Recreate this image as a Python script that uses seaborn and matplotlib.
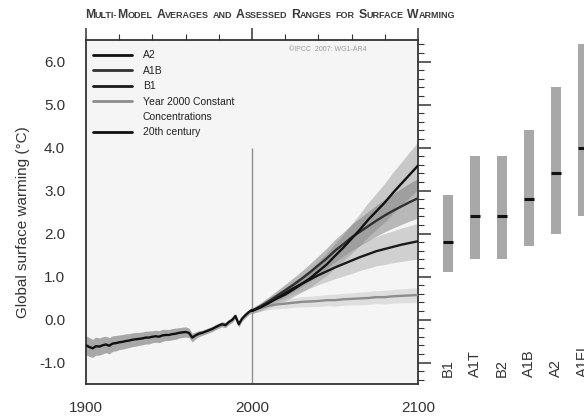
import numpy as np
import pandas as pd
import matplotlib
matplotlib.use("Agg")
import matplotlib.pyplot as plt
from matplotlib.lines import Line2D
from matplotlib.ticker import MultipleLocator, FormatStrFormatter
from matplotlib.transforms import IdentityTransform
import seaborn as sns

sns.set_theme(style="white")
plt.rcParams['font.family'] = ['Liberation Sans', 'DejaVu Sans']

# ---------------- data ----------------
years_20c = list(range(1900, 2001, 2))
temp_20c = [-0.60, -0.64, -0.67, -0.62, -0.63, -0.60, -0.58, -0.61, -0.56, -0.55,
            -0.53, -0.52, -0.50, -0.49, -0.47, -0.46, -0.45, -0.44, -0.42, -0.42,
            -0.40, -0.39, -0.40, -0.37, -0.36, -0.36, -0.34, -0.33, -0.31, -0.30,
            -0.29, -0.31, -0.42, -0.37, -0.33, -0.31, -0.28, -0.25, -0.22, -0.18,
            -0.14, -0.11, -0.13, -0.06, -0.01, 0.08, -0.11, 0.02, 0.10, 0.17, 0.22]
spread_20c = [0.22, 0.22, 0.21, 0.21, 0.20, 0.20, 0.19, 0.19, 0.18, 0.18,
              0.17, 0.17, 0.17, 0.16, 0.16, 0.16, 0.15, 0.15, 0.15, 0.15,
              0.14, 0.14, 0.14, 0.14, 0.13, 0.13, 0.13, 0.13, 0.12, 0.12,
              0.12, 0.11, 0.10, 0.08, 0.07, 0.06, 0.06, 0.06, 0.06, 0.06,
              0.06, 0.06, 0.06, 0.06, 0.06, 0.06, 0.07, 0.06, 0.06, 0.06, 0.06]

years_future = list(range(2000, 2101, 5))
a2 = [0.20, 0.28, 0.38, 0.49, 0.58, 0.70, 0.83, 0.96, 1.12, 1.28, 1.48,
      1.67, 1.88, 2.09, 2.32, 2.52, 2.72, 2.95, 3.16, 3.37, 3.58]
a2_spread = [0.06, 0.09, 0.11, 0.13, 0.15, 0.17, 0.19, 0.21, 0.23, 0.26, 0.28,
             0.31, 0.34, 0.37, 0.40, 0.42, 0.45, 0.48, 0.50, 0.53, 0.55]
a1b = [0.20, 0.30, 0.42, 0.55, 0.68, 0.81, 0.95, 1.10, 1.26, 1.42, 1.60,
       1.75, 1.91, 2.04, 2.17, 2.30, 2.42, 2.53, 2.63, 2.73, 2.82]
a1b_spread = [0.06, 0.08, 0.10, 0.12, 0.14, 0.16, 0.18, 0.20, 0.22, 0.24, 0.26,
              0.28, 0.30, 0.32, 0.34, 0.36, 0.38, 0.40, 0.42, 0.44, 0.46]
b1 = [0.20, 0.30, 0.41, 0.51, 0.62, 0.73, 0.83, 0.93, 1.03, 1.12, 1.21,
      1.29, 1.37, 1.45, 1.52, 1.59, 1.64, 1.69, 1.74, 1.78, 1.82]
b1_spread = [0.06, 0.08, 0.10, 0.12, 0.14, 0.16, 0.18, 0.20, 0.22, 0.24, 0.26,
             0.28, 0.30, 0.31, 0.33, 0.34, 0.36, 0.37, 0.39, 0.40, 0.42]
const = [0.20, 0.27, 0.32, 0.35, 0.37, 0.39, 0.41, 0.42, 0.43, 0.45, 0.45,
         0.47, 0.48, 0.49, 0.50, 0.52, 0.52, 0.54, 0.55, 0.56, 0.57]
const_spread = [0.05, 0.08, 0.09, 0.10, 0.11, 0.11, 0.12, 0.12, 0.13, 0.13, 0.14,
                0.14, 0.14, 0.15, 0.15, 0.15, 0.16, 0.16, 0.16, 0.17, 0.17]

scen_labels = ["B1", "A1T", "B2", "A1B", "A2", "A1FI"]
scen_best = [1.8, 2.4, 2.4, 2.8, 3.4, 4.0]
scen_low = [1.1, 1.4, 1.4, 1.7, 2.0, 2.4]
scen_high = [2.9, 3.8, 3.8, 4.4, 5.4, 6.4]

legend_labels = ["A2", "A1B", "B1", "Year 2000 Constant", "Concentrations", "20th century"]
title_text = "Multi-Model Averages and Assessed Ranges for Surface Warming"
credit_text = "\u00a9IPCC  2007: WG1-AR4"
y_label = "Global surface warming (\u00b0C)"
divider_year = 2000
divider_top = 4.0

# ---------------- styles ----------------
line_colors = {"A2": "#111111", "A1B": "#303030", "B1": "#1a1a1a",
               "Const": "#8c8c8c", "20c": "#111111"}
band_styles = {"A2": ("#8a8a8a", 0.42), "A1B": ("#6e6e6e", 0.45),
               "B1": ("#9a9a9a", 0.40), "Const": ("#c4c4c4", 0.45),
               "20c": ("#7a7a7a", 0.62)}
ink = "#333333"

W, H = 584, 417
fig = plt.figure(figsize=(W / 100, H / 100), dpi=100)
fig.patch.set_facecolor("white")

ax_l, ax_r, ax_t, ax_b = 86, 418, 40, 384
ax = fig.add_axes([ax_l / W, 1 - ax_b / H, (ax_r - ax_l) / W, (ax_b - ax_t) / H])
ax.set_facecolor("#f5f5f5")

# bands
yf = np.array(years_future)
for key, mean, spr in [("A2", a2, a2_spread), ("A1B", a1b, a1b_spread),
                       ("B1", b1, b1_spread), ("Const", const, const_spread)]:
    m = np.array(mean); s = np.array(spr)
    c, a = band_styles[key]
    ax.fill_between(yf, m - s, m + s, color=c, alpha=a, linewidth=0)
m20 = np.array(temp_20c); s20 = np.array(spread_20c)
ax.fill_between(np.array(years_20c), m20 - s20, m20 + s20,
                color=band_styles["20c"][0], alpha=band_styles["20c"][1], linewidth=0)

ax.vlines(divider_year, -1.5, divider_top, color="#8f8f8f", linewidth=1.0, zorder=1.5)

# lines
df = pd.concat([
    pd.DataFrame({"year": years_future, "temp": const, "series": "Const"}),
    pd.DataFrame({"year": years_future, "temp": b1, "series": "B1"}),
    pd.DataFrame({"year": years_future, "temp": a1b, "series": "A1B"}),
    pd.DataFrame({"year": years_future, "temp": a2, "series": "A2"}),
    pd.DataFrame({"year": years_20c, "temp": temp_20c, "series": "20c"}),
], ignore_index=True)
sns.lineplot(data=df, x="year", y="temp", hue="series", palette=line_colors,
             linewidth=1.7, legend=False, ax=ax, zorder=3)

ax.set_xlim(1900, 2100)
ax.set_ylim(-1.5, 6.5)
ax.xaxis.set_major_locator(MultipleLocator(100))
ax.xaxis.set_minor_locator(MultipleLocator(20))
ax.yaxis.set_major_locator(MultipleLocator(1.0))
ax.yaxis.set_minor_locator(MultipleLocator(0.2))
ax.yaxis.set_major_formatter(FormatStrFormatter("%.1f"))
ax.tick_params(which="both", direction="out", top=True, right=True,
               labeltop=False, labelright=False, color=ink)
ax.tick_params(which="major", length=9, width=1.1, labelsize=11, labelcolor=ink)
ax.tick_params(axis="y", which="major", pad=6)
ax.tick_params(axis="x", which="major", pad=3.5)
ax.tick_params(which="minor", length=4.5, width=0.8)
for sp in ax.spines.values():
    sp.set_color(ink)
    sp.set_linewidth(1.3)
ax.set_xlabel("")
ax.set_ylabel(y_label, fontsize=11, color=ink)
ax.yaxis.set_label_coords(-0.17, 0.47)

# legend
handles = [Line2D([], [], color=line_colors[k], linewidth=2.0)
           for k in ["A2", "A1B", "B1", "Const"]]
handles.append(Line2D([], [], color="none", linewidth=0))
handles.append(Line2D([], [], color=line_colors["20c"], linewidth=2.0))
leg = ax.legend(handles, legend_labels, loc="upper left", bbox_to_anchor=(0.02, 0.97),
                frameon=False, fontsize=7.5, handlelength=3.8, handletextpad=1.0,
                labelspacing=0.52, borderpad=0, borderaxespad=0)
for t in leg.get_texts():
    t.set_color("#222222")

ax.text(0.846, 0.972, credit_text, transform=ax.transAxes, ha="right", va="center",
        fontsize=5, color="#9a9a9a")

# right panel of likely ranges
ax2 = fig.add_axes([434.5 / W, 1 - ax_b / H, 162 / W, (ax_b - ax_t) / H])
ax2.set_ylim(-1.5, 6.5)
ax2.set_xlim(-0.5, 5.5)
ax2.axis("off")
xpos = np.arange(len(scen_labels))
heights = np.array(scen_high) - np.array(scen_low)
ax2.bar(xpos, heights, bottom=scen_low, width=0.37, color="#a8a8a8", linewidth=0)
ax2.hlines(scen_best, xpos - 0.185, xpos + 0.185, color="#111111", linewidth=2.2)
for xp, lab in zip(xpos, scen_labels):
    ax2.text(xp, -1.33, lab, rotation=90, ha="center", va="bottom",
             fontsize=10.5, color=ink)

# small-caps title
renderer = fig.canvas.get_renderer()
big_size, small_size = 8.8, 6.5
words = []
for word in title_text.split(" "):
    runs = []
    for ch in word:
        big = ch.isupper()
        if runs and runs[-1][1] == big:
            runs[-1][0] += ch.upper()
        else:
            runs.append([ch.upper(), big])
    words.append(runs)
placed = []
cursor = 0.0
space = 0.30 * big_size * 100 / 72
for wi, runs in enumerate(words):
    for s, big in runs:
        t = fig.text(0, 0, s, fontsize=big_size if big else small_size,
                     fontweight="bold", color="#3a3a3a", transform=IdentityTransform(),
                     va="baseline", ha="left")
        w = t.get_window_extent(renderer).width
        placed.append((t, cursor))
        cursor += w
    if wi < len(words) - 1:
        cursor += space
start = 270 - cursor / 2
for t, off in placed:
    t.set_position((start + off, H - 18))

fig.savefig("out.png", dpi=100)
